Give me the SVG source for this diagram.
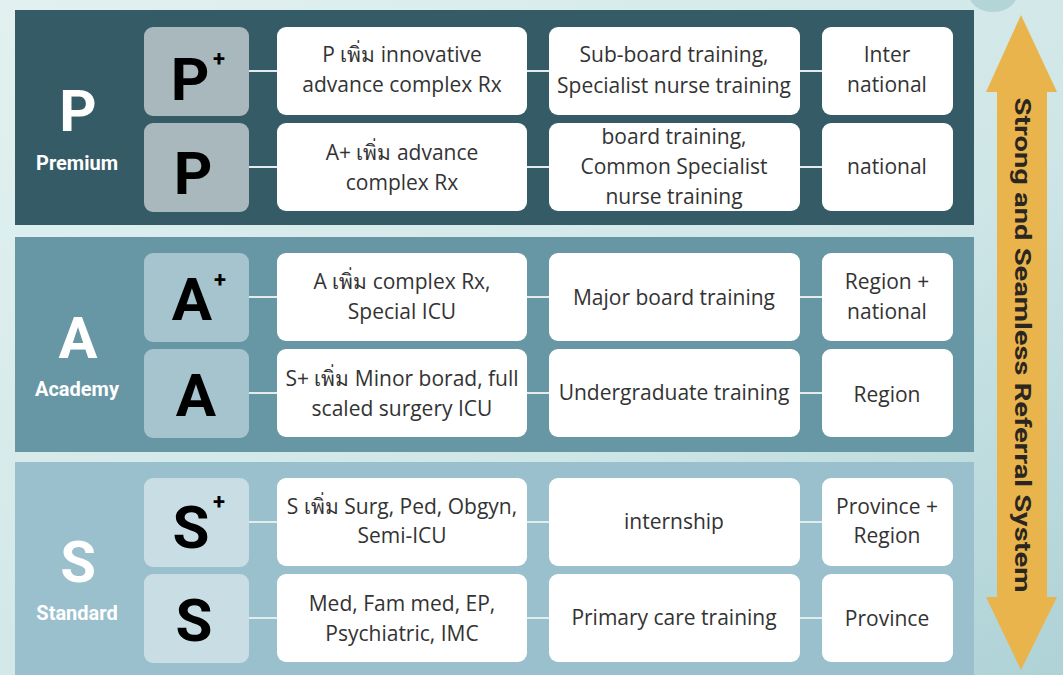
<svg xmlns="http://www.w3.org/2000/svg" width="1063" height="675" viewBox="0 0 1063 675">
<defs>
<linearGradient id="bg" x1="0" y1="0" x2="1" y2="1">
<stop offset="0" stop-color="#e2f1f0"/>
<stop offset="0.6" stop-color="#cfe6e7"/>
<stop offset="1" stop-color="#aed2d6"/>
</linearGradient>
<style>
.panelP{fill:#355c66}
.panelA{fill:#6796a5}
.panelS{fill:#99c0cc}
.lbP{fill:#a8b8bd}
.lbA{fill:#a6c4cd}
.lbS{fill:#c8dee4}
.box{fill:#ffffff}
.big{font-family:Roboto,"Liberation Sans",sans-serif;font-weight:700;fill:#ffffff;text-anchor:middle}
.sub{font-family:Roboto,"Liberation Sans",sans-serif;font-weight:700;fill:#ffffff;text-anchor:middle;font-size:20px}
.lt{font-family:Roboto,"Liberation Sans",sans-serif;font-weight:700;fill:#000000;font-size:60px;text-anchor:middle}
.pl{font-family:Roboto,"Liberation Sans",sans-serif;font-weight:700;fill:#000000;font-size:22px}
.t{font-family:"Open Sans","Noto Sans","DejaVu Sans",sans-serif;fill:#333333;font-size:21px;text-anchor:middle}
.conn{stroke:#e3ebed;stroke-width:2;fill:none}
</style>
</defs>
<rect x="0" y="0" width="1063" height="675" fill="url(#bg)"/>
<ellipse cx="993" cy="-6" rx="24" ry="18" fill="#b3d5d8"/>

<g id="panels">
<rect class="panelP" x="15" y="10" width="959" height="215"/>
<rect class="panelA" x="15" y="237" width="959" height="215"/>
<rect class="panelS" x="15" y="462" width="959" height="213"/>
</g>

<g id="tier-labels">
<text class="big" x="78" y="131" font-size="58">P</text>
<text class="sub" x="77" y="170">Premium</text>
<text class="big" x="78" y="358" font-size="58">A</text>
<text class="sub" x="77" y="396">Academy</text>
<text class="big" x="78" y="582" font-size="58">S</text>
<text class="sub" x="77" y="620">Standard</text>
</g>

<g id="connectors">
<path class="conn" d="M249 71H277M527 71H549M800 71H822"/>
<path class="conn" d="M249 167H277M527 167H549M800 167H822"/>
<path class="conn" d="M249 297H277M527 297H549M800 297H822"/>
<path class="conn" d="M249 393H277M527 393H549M800 393H822"/>
<path class="conn" d="M249 522H277M527 522H549M800 522H822"/>
<path class="conn" d="M249 618H277M527 618H549M800 618H822"/>
</g>

<g id="node-Pplus">
<rect class="lbP" x="144" y="27" width="105" height="89" rx="9"/>
<text class="lt" x="190" y="100">P</text><text class="pl" x="213" y="66">+</text>
<rect class="box" x="277" y="27" width="250" height="88" rx="9"/>
<text class="t" x="402" y="62">P เพิ่ม innovative</text>
<text class="t" x="402" y="92">advance complex Rx</text>
<rect class="box" x="549" y="27" width="251" height="88" rx="9"/>
<text class="t" x="674" y="62">Sub-board training,</text>
<text class="t" x="674" y="93">Specialist nurse training</text>
<rect class="box" x="822" y="27" width="131" height="88" rx="9"/>
<text class="t" x="887" y="62">Inter</text>
<text class="t" x="887" y="92">national</text>
</g>

<g id="node-P">
<rect class="lbP" x="144" y="123" width="105" height="89" rx="9"/>
<text class="lt" x="193" y="194">P</text>
<rect class="box" x="277" y="123" width="250" height="88" rx="9"/>
<text class="t" x="402" y="160">A+ เพิ่ม advance</text>
<text class="t" x="402" y="190">complex Rx</text>
<rect class="box" x="549" y="123" width="251" height="88" rx="9"/>
<text class="t" x="674" y="144">board training,</text>
<text class="t" x="674" y="174">Common Specialist</text>
<text class="t" x="674" y="204">nurse training</text>
<rect class="box" x="822" y="123" width="131" height="88" rx="9"/>
<text class="t" x="887" y="174">national</text>
</g>

<g id="node-Aplus">
<rect class="lbA" x="144" y="253" width="105" height="89" rx="9"/>
<text class="lt" x="192" y="320">A</text><text class="pl" x="214" y="287">+</text>
<rect class="box" x="277" y="253" width="250" height="88" rx="9"/>
<text class="t" x="402" y="289">A เพิ่ม complex Rx,</text>
<text class="t" x="402" y="319">Special ICU</text>
<rect class="box" x="549" y="253" width="251" height="88" rx="9"/>
<text class="t" x="674" y="305">Major board training</text>
<rect class="box" x="822" y="253" width="131" height="88" rx="9"/>
<text class="t" x="887" y="289">Region +</text>
<text class="t" x="887" y="319">national</text>
</g>

<g id="node-A">
<rect class="lbA" x="144" y="349" width="105" height="89" rx="9"/>
<text class="lt" x="196" y="416">A</text>
<rect class="box" x="277" y="349" width="250" height="88" rx="9"/>
<text class="t" x="402" y="386">S+ เพิ่ม Minor borad, full</text>
<text class="t" x="402" y="416">scaled surgery ICU</text>
<rect class="box" x="549" y="349" width="251" height="88" rx="9"/>
<text class="t" x="674" y="400">Undergraduate training</text>
<rect class="box" x="822" y="349" width="131" height="88" rx="9"/>
<text class="t" x="887" y="402">Region</text>
</g>

<g id="node-Splus">
<rect class="lbS" x="144" y="478" width="105" height="89" rx="9"/>
<text class="lt" x="191" y="548">S</text><text class="pl" x="213" y="509">+</text>
<rect class="box" x="277" y="478" width="250" height="88" rx="9"/>
<text class="t" x="402" y="514">S เพิ่ม Surg, Ped, Obgyn,</text>
<text class="t" x="402" y="543">Semi-ICU</text>
<rect class="box" x="549" y="478" width="251" height="88" rx="9"/>
<text class="t" x="674" y="529">internship</text>
<rect class="box" x="822" y="478" width="131" height="88" rx="9"/>
<text class="t" x="887" y="514">Province +</text>
<text class="t" x="887" y="543">Region</text>
</g>

<g id="node-S">
<rect class="lbS" x="144" y="574" width="105" height="89" rx="9"/>
<text class="lt" x="194" y="641">S</text>
<rect class="box" x="277" y="574" width="250" height="88" rx="9"/>
<text class="t" x="402" y="611">Med, Fam med, EP,</text>
<text class="t" x="402" y="641">Psychiatric, IMC</text>
<rect class="box" x="549" y="574" width="251" height="88" rx="9"/>
<text class="t" x="674" y="625">Primary care training</text>
<rect class="box" x="822" y="574" width="131" height="88" rx="9"/>
<text class="t" x="887" y="626">Province</text>
</g>

<g id="arrow">
<polygon points="1021,15 1057,92 1047,92 1047,597 1057,597 1021,670 986,597 997,597 997,92 986,92" fill="#e9b44c"/>
<text x="1022" y="345" transform="rotate(90 1022 345)" font-family="Roboto,'Liberation Sans',sans-serif" font-weight="700" font-size="22" fill="#2b2620" text-anchor="middle" dominant-baseline="central" textLength="495" lengthAdjust="spacingAndGlyphs">Strong and Seamless Referral System</text>
</g>
</svg>
